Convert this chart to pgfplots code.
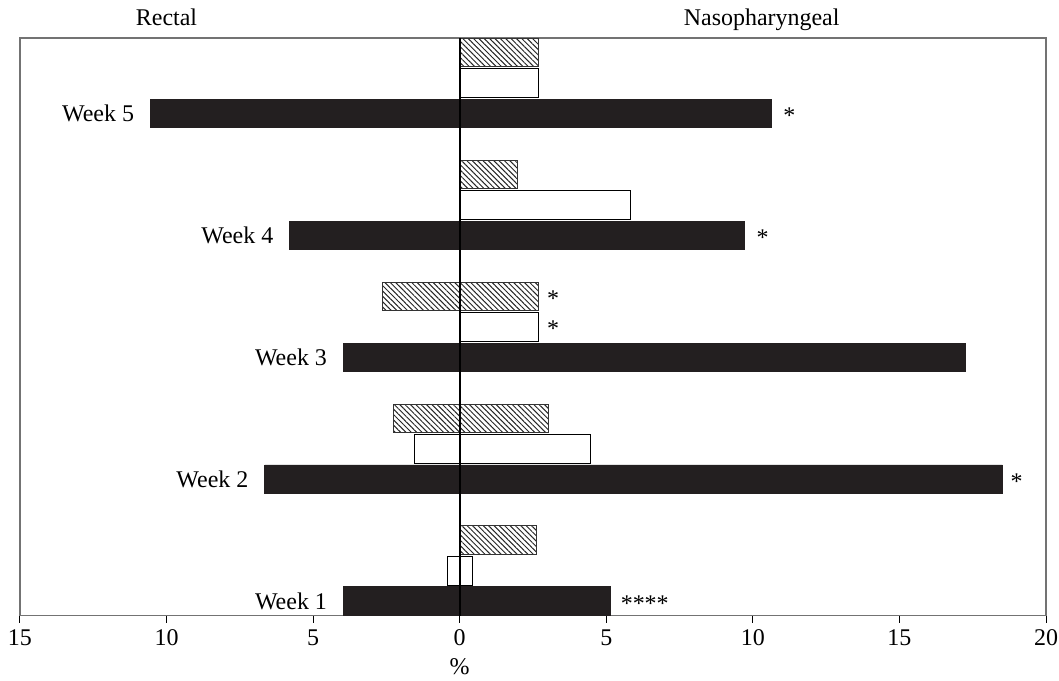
\documentclass[border=0pt]{standalone}
\usepackage{fontspec}
\setmainfont{Liberation Serif}
\usepackage{pgfplots}
\pgfplotsset{compat=1.18}
\usetikzlibrary{patterns.meta}
\definecolor{barblack}{RGB}{35,31,32}
\begin{document}
\begin{tikzpicture}
\useasboundingbox (-10pt,-32.5pt) rectangle (520.5pt,308.5pt);
\begin{axis}[
  scale only axis, width=514pt, height=289.5pt,
  xmin=-15, xmax=20, ymin=0.88, ymax=5.62,
  xtick={-15,-10,-5,0,5,10,15,20},
  xticklabels={15,10,5,0,5,10,15,20},
  ytick=\empty,
  xtick pos=bottom,
  tick align=outside,
  major tick length=3.5pt,
  tick style={black, line width=0.5pt},
  axis line style={black!55, line width=0.6pt},
  xbar, bar width=0.235,
  /pgf/number format/assume math mode=true,
  ticklabel style={font=\fontsize{12}{14}\selectfont},
  clip=false,
]
% black series (right = nasopharyngeal, left = rectal)
\addplot[bar shift=0pt, fill=barblack, draw=barblack] coordinates {(5.14,1) (18.51,2) (17.24,3) (9.71,4) (10.62,5)};
\addplot[bar shift=0pt, fill=barblack, draw=barblack] coordinates {(-3.97,1) (-6.65,2) (-3.97,3) (-5.80,4) (-10.55,5)};
% white series
\addplot[bar shift=0pt, fill=white, draw=black, line width=0.5pt] coordinates {(0.43,1.25) (4.45,2.25) (2.70,3.25) (5.83,4.25) (2.70,5.25)};
\addplot[bar shift=0pt, fill=white, draw=black, line width=0.5pt] coordinates {(-0.42,1.25) (-1.53,2.25)};
% hatched series
\addplot[bar shift=0pt, pattern={Lines[angle=-45,distance=1.9pt,line width=0.5pt]}, pattern color=black!85, draw=black!80, line width=0.5pt] coordinates {(2.63,1.5) (3.02,2.5) (2.70,3.5) (1.98,4.5) (2.70,5.5)};
\addplot[bar shift=0pt, pattern={Lines[angle=-45,distance=1.9pt,line width=0.5pt]}, pattern color=black!85, draw=black!80, line width=0.5pt] coordinates {(-2.27,2.5) (-2.64,3.5)};
% zero line
\draw[black, line width=1pt] (axis cs:0,0.88) -- (axis cs:0,5.62);
% week labels
\node[anchor=east, inner sep=0pt, xshift=-8pt, font=\fontsize{12}{14}\selectfont] at (axis cs:-10.55,5) {Week 5};
\node[anchor=east, inner sep=0pt, xshift=-8pt, font=\fontsize{12}{14}\selectfont] at (axis cs:-5.80,4) {Week 4};
\node[anchor=east, inner sep=0pt, xshift=-8pt, font=\fontsize{12}{14}\selectfont] at (axis cs:-3.97,3) {Week 3};
\node[anchor=east, inner sep=0pt, xshift=-8pt, font=\fontsize{12}{14}\selectfont] at (axis cs:-6.65,2) {Week 2};
\node[anchor=east, inner sep=0pt, xshift=-8pt, font=\fontsize{12}{14}\selectfont] at (axis cs:-3.97,1) {Week 1};
% significance marks
\node[anchor=west, inner sep=0pt, xshift=6pt, yshift=-1pt, font=\fontsize{12}{14}\selectfont] at (axis cs:10.62,5) {*};
\node[anchor=west, inner sep=0pt, xshift=6pt, yshift=-1pt, font=\fontsize{12}{14}\selectfont] at (axis cs:9.71,4) {*};
\node[anchor=west, inner sep=0pt, xshift=4pt, yshift=-1pt, font=\fontsize{12}{14}\selectfont] at (axis cs:2.70,3.5) {*};
\node[anchor=west, inner sep=0pt, xshift=4pt, yshift=-1pt, font=\fontsize{12}{14}\selectfont] at (axis cs:2.70,3.25) {*};
\node[anchor=west, inner sep=0pt, xshift=4pt, yshift=-1pt, font=\fontsize{12}{14}\selectfont] at (axis cs:18.51,2) {*};
\node[anchor=west, inner sep=0pt, xshift=5pt, yshift=-1pt, font=\fontsize{12}{14}\selectfont] at (axis cs:5.14,1) {****};
% side titles
\node[anchor=base, yshift=6pt, font=\fontsize{12}{14}\selectfont] at (axis cs:-10,5.62) {Rectal};
\node[anchor=base, yshift=6pt, font=\fontsize{12}{14}\selectfont] at (axis cs:10.3,5.62) {Nasopharyngeal};
% axis title
\node[anchor=center, yshift=-25.5pt, font=\fontsize{12}{14}\selectfont] at (axis cs:0,0.88) {\%};
\end{axis}
\end{tikzpicture}
\end{document}
